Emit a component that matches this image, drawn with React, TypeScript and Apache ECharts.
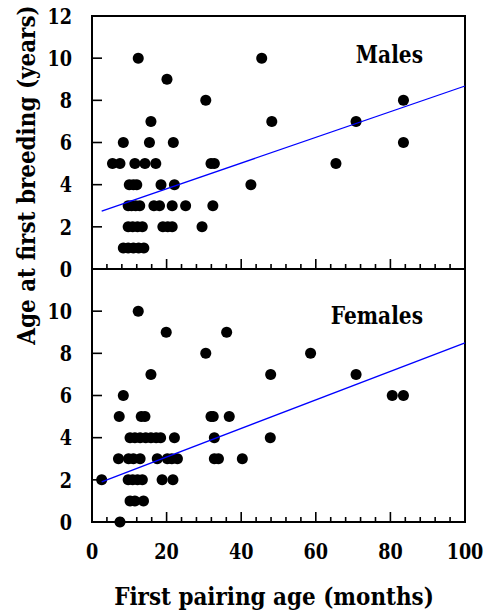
import React, { useEffect, useRef } from "react";
import * as echarts from "echarts";

// Males: first pairing age (months) vs age at first breeding (years)
const malesX = [
  12.4, 45.5, 20.1, 30.5, 15.8, 48.2, 70.8, 83.5, 8.4, 15.4, 21.8, 83.5,
  5.5, 7.5, 11.5, 14.2, 17.1, 31.9, 32.8, 65.4,
  10.0, 11.1, 12.0, 18.5, 22.1, 42.6,
  9.7, 10.6, 11.7, 12.8, 16.6, 18.1, 21.5, 25.1, 32.4,
  9.7, 10.9, 12.2, 13.5, 19.0, 20.3, 21.5, 29.5,
  8.4, 9.7, 11.1, 12.5, 13.9,
];
const malesY = [
  10, 10, 9, 8, 7, 7, 7, 8, 6, 6, 6, 6,
  5, 5, 5, 5, 5, 5, 5, 5,
  4, 4, 4, 4, 4, 4,
  3, 3, 3, 3, 3, 3, 3, 3, 3,
  2, 2, 2, 2, 2, 2, 2, 2,
  1, 1, 1, 1, 1,
];

// Females
const femalesX = [
  12.4, 19.9, 36.1, 30.5, 58.6, 15.8, 47.9, 70.8, 8.4, 80.5, 83.5,
  7.3, 13.2, 14.2, 31.9, 32.5, 36.8,
  10.2, 11.5, 12.9, 14.4, 15.8, 17.2, 18.4, 22.1, 32.8, 47.8,
  7.1, 9.8, 11.1, 12.9, 17.5, 20.2, 21.4, 22.9, 32.8, 33.9, 40.3,
  2.6, 9.7, 10.9, 12.2, 13.5, 18.8, 21.7,
  10.2, 11.5, 13.8,
  7.5,
];
const femalesY = [
  10, 9, 9, 8, 8, 7, 7, 7, 6, 6, 6,
  5, 5, 5, 5, 5, 5,
  4, 4, 4, 4, 4, 4, 4, 4, 4, 4,
  3, 3, 3, 3, 3, 3, 3, 3, 3, 3, 3,
  2, 2, 2, 2, 2, 2, 2,
  1, 1, 1,
  0,
];

// Fitted regression lines (intercept, slope) and x-range
const malesFit = { intercept: 2.59, slope: 0.0609, xStart: 2.6, xEnd: 100 };
const femalesFit = { intercept: 1.73, slope: 0.0677, xStart: 2.6, xEnd: 100 };

const xTicks = [0, 20, 40, 60, 80, 100];
const xMinorStep = 4;
const yTicksTop = [0, 2, 4, 6, 8, 10, 12];
const yTicksBottom = [0, 2, 4, 6, 8, 10];

const panelLabels = ["Males", "Females"];
const xTitle = "First pairing age (months)";
const yTitle = "Age at first breeding (years)";

const FONT = "DejaVu Serif";
// DejaVu Serif is wider than Times; condense it horizontally
const SQUEEZE = 0.8;
const TITLE_SQUEEZE = 0.86;

function pairs(xs: number[], ys: number[]) {
  return xs.map((x, i) => [x, ys[i]]);
}
function fitLine(f: { intercept: number; slope: number; xStart: number; xEnd: number }) {
  return [
    [f.xStart, f.intercept + f.slope * f.xStart],
    [f.xEnd, f.intercept + f.slope * f.xEnd],
  ];
}

const xMax = xTicks[xTicks.length - 1];
const xMinorValues: number[] = [];
for (let v = xTicks[0]; v <= xMax; v += xMinorStep) xMinorValues.push(v);

export default function App() {
  const ref = useRef<HTMLDivElement>(null);
  useEffect(() => {
    if (!ref.current) return;
    const chart = echarts.init(ref.current, undefined, { renderer: "svg" });
    const makeX = (gridIndex: number) => ({
      type: "value" as const,
      gridIndex,
      min: xTicks[0],
      max: xMax,
      interval: xTicks[1] - xTicks[0],
      axisLine: { show: false },
      axisTick: { show: false },
      minorTick: { show: false },
      splitLine: { show: false },
      axisLabel: { show: false },
    });
    const makeY = (gridIndex: number) => ({
      type: "value" as const,
      gridIndex,
      min: 0,
      max: 12,
      interval: 2,
      axisLine: { show: false },
      axisTick: { show: false },
      splitLine: { show: false },
      axisLabel: { show: false },
    });
    const scatterStyle = { color: "#000", opacity: 1 };
    chart.setOption({
      animation: false,
      backgroundColor: "#fff",
      grid: [
        {
          left: 92, top: 16, width: 373, height: 253, show: true,
          borderColor: "#000", borderWidth: 2, containLabel: false, outerBoundsMode: "none",
        },
        {
          left: 92, top: 269, width: 373, height: 253, show: true,
          borderColor: "#000", borderWidth: 2, containLabel: false, outerBoundsMode: "none",
        },
      ],
      xAxis: [makeX(0), makeX(1)],
      yAxis: [makeY(0), makeY(1)],
      series: [
        {
          type: "scatter", xAxisIndex: 0, yAxisIndex: 0, symbolSize: 11,
          itemStyle: scatterStyle, data: pairs(malesX, malesY), z: 3,
        },
        {
          type: "line", xAxisIndex: 0, yAxisIndex: 0, symbol: "none",
          lineStyle: { color: "#0000ff", width: 1.3 }, data: fitLine(malesFit), z: 4,
        },
        {
          type: "scatter", xAxisIndex: 1, yAxisIndex: 1, symbolSize: 11,
          itemStyle: scatterStyle, data: pairs(femalesX, femalesY), z: 3,
        },
        {
          type: "line", xAxisIndex: 1, yAxisIndex: 1, symbol: "none",
          lineStyle: { color: "#0000ff", width: 1.3 }, data: fitLine(femalesFit), z: 4,
        },
      ],
    });

    // Ticks and labels placed through the library's own axis scales
    const px = (i: number, v: number) => Number(chart.convertToPixel({ xAxisIndex: i } as any, v));
    const py = (i: number, v: number) => Number(chart.convertToPixel({ yAxisIndex: i } as any, v));
    const els: any[] = [];
    const text = (
      t: string, x: number, y: number, size: number, align: string, sx: number, rotation = 0
    ) => ({
      type: "text",
      x, y, rotation, scaleX: sx, scaleY: 1, z: 20,
      style: { text: t, fill: "#000", font: `bold ${size}px ${FONT}`, align, verticalAlign: "middle" },
    });
    const tickRect = (x: number, y: number, w: number, h: number) => ({
      type: "rect", z: 30, silent: true,
      shape: { x, y, width: w, height: h },
      style: { fill: "#000" },
    });
    const TW = 1.6;
    const yTickSets = [yTicksTop, yTicksBottom];
    [0, 1].forEach((i) => {
      const bottom = py(i, 0);
      const left = px(i, 0);
      xMinorValues.forEach((v) => {
        if (v === xTicks[0] || v === xMax) return;
        const x = px(i, v);
        const len = xTicks.indexOf(v) >= 0 ? 10 : 5;
        els.push(tickRect(x - TW / 2, bottom - len, TW, len));
      });
      yTickSets[i].forEach((v) => {
        const y = py(i, v);
        if (v !== 0 && v !== 12) els.push(tickRect(left, y - TW / 2, 10, TW));
        els.push(text(String(v), left - 20, y, 22, "right", SQUEEZE));
      });
    });
    const base = py(1, 0);
    xTicks.forEach((v) => {
      els.push(text(String(v), px(1, v), base + 29, 22, "center", SQUEEZE));
    });
    els.push(text(panelLabels[0], 423, 54, 24, "right", 0.84));
    els.push(text(panelLabels[1], 423, 315, 24, "right", 0.84));
    els.push(text(xTitle, 274, 596, 25, "center", TITLE_SQUEEZE));
    els.push(text(yTitle, 26, 175, 25, "center", TITLE_SQUEEZE, Math.PI / 2));
    chart.setOption({ graphic: { elements: els } });

    return () => chart.dispose();
  }, []);
  return (
    <div
      ref={ref}
      style={{ position: "fixed", left: 0, top: 0, width: 485, height: 614, background: "#fff" }}
    />
  );
}
